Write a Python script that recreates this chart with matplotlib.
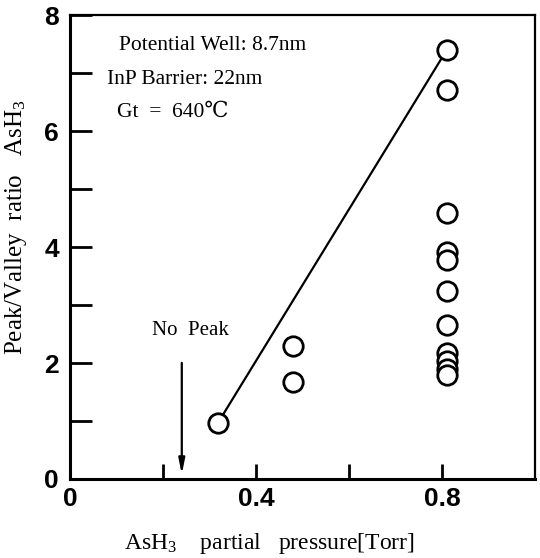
import matplotlib
matplotlib.use("Agg")
import matplotlib.pyplot as plt
from matplotlib.ticker import FixedLocator, FuncFormatter

plt.rcParams["mathtext.fontset"] = "custom"
plt.rcParams["mathtext.rm"] = "Liberation Serif"
plt.rcParams["mathtext.it"] = "Liberation Serif"

# data
pressure = [0.318, 0.48, 0.48, 0.81, 0.81, 0.81, 0.81, 0.81, 0.81, 0.81, 0.81, 0.81, 0.81, 0.81]
ratio = [0.97, 2.3, 1.68, 7.4, 6.7, 4.58, 3.92, 3.78, 3.24, 2.65, 2.17, 2.03, 1.9, 1.8]
fit_x = [0.318, 0.81]
fit_y = [0.97, 7.4]
no_peak_x = 0.24
annot_lines = ["Potential Well: 8.7nm", "InP Barrier: 22nm", "Gt  =  640\u2103"]

serif = ["Liberation Serif", "DejaVu Serif"]
fig = plt.figure(figsize=(5.4, 5.58), dpi=100)
ax = fig.add_axes([0.13, 0.1416, 0.861, 0.8314])

ax.plot(fit_x, fit_y, color="black", lw=1.6, zorder=2)
ax.plot(pressure, ratio, linestyle="none", marker="o", markersize=14,
        markerfacecolor="white", markeredgecolor="black", markeredgewidth=2.0, zorder=3)

ax.annotate("", xy=(no_peak_x, 0.03), xytext=(no_peak_x, 2.05),
            arrowprops=dict(arrowstyle="-|>,head_length=0.9,head_width=0.18", color="black", lw=1.6))
ax.text(0.177, 2.48, "No  Peak", ha="left", va="baseline", fontsize=15, family=serif)

ax.text(0.106, 7.4, annot_lines[0], ha="left", va="baseline", fontsize=15.5, family=serif)
ax.text(0.08, 6.81, annot_lines[1], ha="left", va="baseline", fontsize=15.5, family=serif)
ax.text(0.10, 6.24, annot_lines[2], ha="left", va="baseline", fontsize=15.5, family=serif)

ax.set_xlim(0, 1.0)
ax.set_ylim(0, 8)
ax.xaxis.set_major_locator(FixedLocator([0, 0.2, 0.4, 0.6, 0.8]))
ax.yaxis.set_major_locator(FixedLocator([0, 1, 2, 3, 4, 5, 6, 7, 8]))
ax.xaxis.set_major_formatter(FuncFormatter(lambda v, p: {0: "0", 0.4: "0.4", 0.8: "0.8"}.get(round(v, 1), "")))
ax.yaxis.set_major_formatter(FuncFormatter(lambda v, p: str(int(v)) if int(round(v)) % 2 == 0 else ""))
ax.tick_params(axis="y", direction="in", length=16, width=2, pad=8)
ax.tick_params(axis="x", direction="in", length=11, width=2, pad=6)
for lab in ax.get_xticklabels() + ax.get_yticklabels():
    lab.set_fontfamily("Liberation Sans")
    lab.set_fontweight("bold")
    lab.set_fontsize(19)

ax.spines["left"].set_linewidth(2.2)
ax.spines["bottom"].set_linewidth(2.2)
ax.spines["top"].set_linewidth(1.6)
ax.spines["right"].set_linewidth(1.6)

ax.set_xlabel("AsH$_3$    partial   pressure[Torr]", fontsize=17, family=serif)
ax.set_ylabel("Peak/Valley  ratio   AsH$_3$", fontsize=18, family=serif)
ax.xaxis.set_label_coords(0.428, -0.113)
ax.yaxis.set_label_coords(-0.088, 0.543)

fig.savefig("out.png", dpi=100)
